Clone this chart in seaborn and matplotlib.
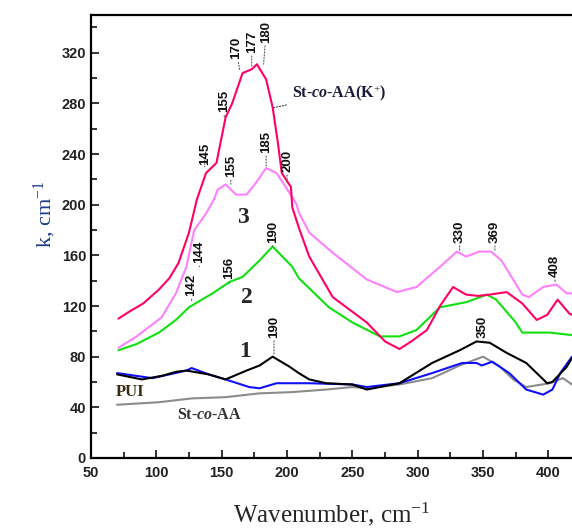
import numpy as np
import pandas as pd
import matplotlib
matplotlib.use("Agg")
import matplotlib.pyplot as plt
from matplotlib.ticker import MultipleLocator
import seaborn as sns

# curve St-co-AA(K+)
k_x = [71, 80, 90, 102, 110, 117, 125, 131, 138, 146, 153, 158, 166, 173, 177, 184, 189,
       193, 196, 203, 204, 209, 217, 235, 261, 275, 286, 295, 307, 317, 327, 337, 346, 355,
       368, 380, 391, 399, 407, 416, 418]
k_y = [110, 116, 122, 133, 142, 154, 178, 204, 225, 233, 269, 280, 304, 307, 311, 299, 277,
       249, 225, 214, 198, 182, 159, 127, 107, 92, 86, 92, 101, 120, 135, 129, 128, 129,
       131, 122, 109, 113, 125, 114, 113]

# curve 3
c3_x = [71, 85, 104, 115, 123, 129, 138, 144, 147, 153, 161, 169, 176, 184, 192, 199, 207,
        209, 217, 235, 261, 284, 299, 317, 330, 337, 347, 356, 364, 380, 385, 396, 406, 414, 418]
c3_y = [87, 96, 111, 130, 151, 180, 193, 204, 212, 216, 208, 208, 217, 229, 225, 214, 201,
        194, 178, 162, 141, 131, 135, 151, 163, 159, 163, 163, 156, 129, 127, 135, 137, 130, 130]

# curve 2
c2_x = [71, 85, 102, 115, 125, 143, 156, 166, 179, 189, 204, 209, 232, 250, 271, 286, 299,
        301, 317, 337, 353, 360, 375, 380, 401, 418]
c2_y = [85, 90, 99, 109, 119, 130, 139, 143, 156, 167, 151, 142, 119, 107, 96, 96, 101,
        103, 119, 123, 129, 125, 107, 99, 99, 97]

# curve 1
c1_x = [70, 89, 105, 115, 123, 140, 153, 169, 179, 189, 202, 209, 217, 230, 250, 261, 286,
        311, 332, 345, 355, 368, 383, 399, 403, 414, 418]
c1_y = [66, 62, 65, 68, 69, 66, 62, 69, 73, 80, 72, 67, 62, 59, 58, 54, 59,
        75, 85, 92, 91, 83, 75, 59, 60, 72, 79]

# PUI
pui_x = [70, 97, 110, 123, 127, 140, 153, 171, 179, 192, 217, 250, 261, 286, 311, 334, 345,
         349, 357, 370, 383, 396, 403, 409, 418]
pui_y = [67, 63, 66, 69, 71, 66, 62, 56, 55, 59, 59, 58, 56, 59, 67, 75, 75,
         73, 76, 67, 54, 50, 54, 67, 80]

# St-co-AA
st_x = [70, 102, 127, 153, 179, 204, 230, 250, 261, 286, 311, 332, 350, 363, 373, 383, 401,
        411, 418]
st_y = [42, 44, 47, 48, 51, 52, 54, 56, 55, 58, 63, 73, 80, 72, 62, 56, 59, 63, 58]

# peak labels: point on curve, label position (bottom of rotated text)
peak_x = [137, 152, 164, 173, 182, 157, 184, 200, 127, 133, 156, 189, 190, 332, 359, 405, 350]
peak_y = [229, 268, 305, 308, 310, 214, 229, 216, 122, 150, 137, 167, 80, 163, 163, 137, 92]
lab_x = [137, 152, 161, 173, 184, 157, 184, 200, 127, 133, 156, 189, 190, 332, 359, 405, 350]
lab_y = [229, 271, 313, 318, 326, 220, 239, 224, 126, 152, 139, 168, 93, 168, 168, 141, 93]
peak_txt = ["145", "155", "170", "177", "180", "155", "185", "200", "142", "144", "156",
            "190", "190", "330", "369", "408", "350"]

sns.set_style("ticks")
plt.rcParams["font.family"] = ["Liberation Sans", "DejaVu Sans"]
plt.rcParams["mathtext.fontset"] = "custom"
plt.rcParams["mathtext.rm"] = "Liberation Serif"
plt.rcParams["mathtext.it"] = "Liberation Serif:italic:bold"
plt.rcParams["mathtext.bf"] = "Liberation Serif:bold"

fig = plt.figure(figsize=(5.72, 5.30), dpi=100)
ax = fig.add_axes([0.159, 0.136, 0.841, 0.836])

series = [
    (st_x, st_y, "#8c8c8c"),
    (pui_x, pui_y, "#1010ff"),
    (c1_x, c1_y, "#000000"),
    (c2_x, c2_y, "#10e010"),
    (c3_x, c3_y, "#ff80ff"),
    (k_x, k_y, "#ff0066"),
]
for xs, ys, col in series:
    sns.lineplot(x=xs, y=ys, color=col, lw=1.5, ax=ax, sort=False)

ax.set_xlim(50, 418)
ax.set_ylim(0, 350)
ax.xaxis.set_major_locator(MultipleLocator(50))
ax.xaxis.set_minor_locator(MultipleLocator(25))
ax.yaxis.set_major_locator(MultipleLocator(40))
ax.yaxis.set_minor_locator(MultipleLocator(20))
ax.tick_params(which="both", direction="in", width=1.3, labelsize=10.5, colors="#222222")
ax.tick_params(which="major", length=6)
ax.tick_params(which="minor", length=4)
ax.tick_params(axis="x", pad=6)
for lab in ax.get_xticklabels() + ax.get_yticklabels():
    lab.set_fontweight("bold")
for s in ["left", "bottom", "top"]:
    ax.spines[s].set_linewidth(1.6)
    ax.spines[s].set_color("black")
ax.spines["right"].set_visible(False)

ax.set_xlabel("Wavenumber, cm$^{-1}$", family="Liberation Serif", fontsize=18, labelpad=15)
ax.set_ylabel("k, cm$^{-1}$", family="Liberation Serif", fontsize=16, color="#1a3c8c")
ax.yaxis.set_label_coords(-0.068, 0.55)

for px, py, tx, ty, t in zip(peak_x, peak_y, lab_x, lab_y, peak_txt):
    ax.annotate(t, xy=(px, py), xytext=(tx, ty + 2), rotation=90, ha="center", va="bottom",
                fontsize=9.5, fontweight="bold", color="#111111",
                arrowprops=dict(arrowstyle="-", ls=":", lw=0.8, color="#555555",
                                shrinkA=0, shrinkB=1))

serif = dict(family="Liberation Serif", fontweight="bold")
ax.text(166, 190, "3", fontsize=17, ha="center", va="center", **serif)
ax.text(169, 127, "2", fontsize=17, ha="center", va="center", **serif)
ax.text(168, 84, "1", fontsize=17, ha="center", va="center", **serif)
ax.text(69, 52, "PUI", fontsize=12, color="#3a2a10", ha="left", va="center", **serif)
ax.text(116, 34, "St-$\\it{co}$-AA", fontsize=11.5, color="#333333", ha="left", va="center", **serif)
ax.annotate("St-$\\it{co}$-AA(K$^{+}$)", xy=(187, 276), xytext=(204, 288), fontsize=11.5,
            color="#1a1a3a", ha="left", va="center",
            arrowprops=dict(arrowstyle="-", ls=":", lw=0.8, color="#333333"), **serif)

fig.savefig("out.png", dpi=100)
plt.close(fig)
